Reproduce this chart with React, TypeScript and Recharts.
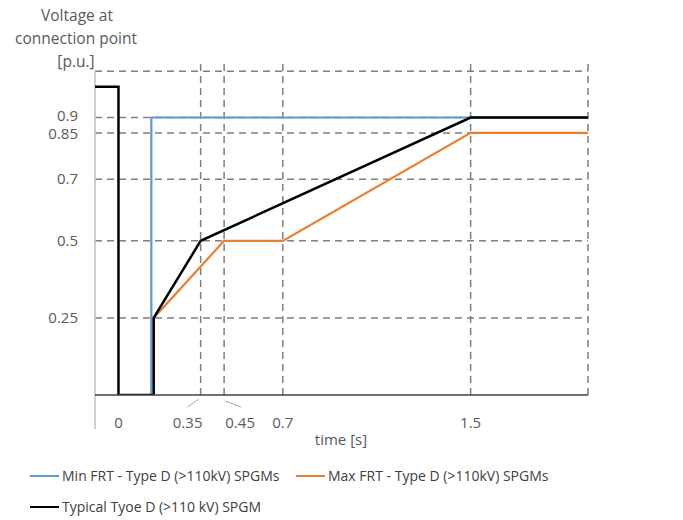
import React from "react";
import { LineChart, Line, XAxis, YAxis, ReferenceLine } from "recharts";

const minFrt = [
  { t: 0.14, v: 0 },
  { t: 0.14, v: 0.9 },
  { t: 2, v: 0.9 },
];

const maxFrt = [
  { t: 0.15, v: 0 },
  { t: 0.15, v: 0.25 },
  { t: 0.45, v: 0.5 },
  { t: 0.7, v: 0.5 },
  { t: 1.5, v: 0.85 },
  { t: 2, v: 0.85 },
];

const typical = [
  { t: -0.1, v: 1 },
  { t: 0, v: 1 },
  { t: 0, v: 0 },
  { t: 0.15, v: 0 },
  { t: 0.15, v: 0.25 },
  { t: 0.35, v: 0.5 },
  { t: 1.5, v: 0.9 },
  { t: 2, v: 0.9 },
];

const xTicks = [0, 0.35, 0.45, 0.7, 1.5];
const yTicks = [0.25, 0.5, 0.7, 0.85, 0.9];
const gridX = [0.35, 0.45, 0.7, 1.5, 2];
const gridY = [0.25, 0.5, 0.7, 0.85, 0.9, 1.05];

const series = [
  { name: "Min FRT - Type D (>110kV) SPGMs", color: "#5B9BD5", data: minFrt },
  { name: "Max FRT - Type D (>110kV) SPGMs", color: "#ED7D31", data: maxFrt },
  { name: "Typical Tyoe D (>110 kV) SPGM", color: "#000000", data: typical },
];

const FONT = "'Open Sans', sans-serif";
const TEXT = "#595959";
const GRID = "#7f7f7f";

const XTick = (props: any) => {
  const { x, y, payload } = props;
  const v = payload.value;
  // 0.35 and 0.45 sit too close, so their labels are pushed apart with leaders
  let dx = 0;
  let leader = null;
  if (Math.abs(v - 0.35) < 1e-6) {
    dx = -13;
    leader = <line x1={x - 2} y1={y + 2} x2={x - 13} y2={y + 10} stroke="#a6a6a6" />;
  } else if (Math.abs(v - 0.45) < 1e-6) {
    dx = 16;
    leader = <line x1={x + 1} y1={y + 4} x2={x + 17} y2={y + 10} stroke="#a6a6a6" />;
  }
  return (
    <g>
      {leader}
      <text x={x + dx} y={y + 31} textAnchor="middle" fill={TEXT} fontSize={15} fontFamily={FONT}>
        {v}
      </text>
    </g>
  );
};

const YTick = (props: any) => {
  const { x, y, payload } = props;
  const v = payload.value;
  // 0.9 and 0.85 are only a few pixels apart
  const dy = v === 0.9 ? -1.5 : v === 0.85 ? 1.5 : 0;
  return (
    <text x={x} y={y + dy + 5} textAnchor="end" fill={TEXT} fontSize={15} fontFamily={FONT}>
      {v}
    </text>
  );
};

export default function App() {
  return (
    <div style={{ position: "absolute", left: 0, top: 0, width: 683, height: 520, background: "#fff" }}>
      <LineChart width={683} height={520} margin={{ top: 62, right: 95, bottom: 95, left: 35 }}>
        <XAxis
          dataKey="t"
          type="number"
          domain={[-0.1, 2]}
          ticks={xTicks}
          interval={0}
          allowDataOverflow
          axisLine={{ stroke: "#404040", strokeWidth: 1.5 }}
          tickLine={false}
          tickSize={0}
          tick={<XTick />}
          height={30}
        />
        <YAxis
          type="number"
          domain={[0, 1.08]}
          ticks={yTicks}
          interval={0}
          allowDataOverflow
          axisLine={false}
          tickLine={false}
          tickSize={0}
          tickMargin={17}
          width={60}
          tick={<YTick />}
        />
        {gridY.map((y) => (
          <ReferenceLine key={"y" + y} y={y} stroke={GRID} strokeDasharray="7 5" strokeWidth={1.5} />
        ))}
        {gridX.map((x) => (
          <ReferenceLine key={"x" + x} x={x} stroke={GRID} strokeDasharray="7 5" strokeWidth={1.5} />
        ))}
        <ReferenceLine
          segment={[{ x: -0.1, y: -0.11 }, { x: -0.1, y: 1.05 }]}
          stroke="#bfbfbf"
          strokeWidth={1.5}
          ifOverflow="visible"
        />
        {series.map((s) => (
          <Line
            key={s.name}
            data={s.data}
            dataKey="v"
            name={s.name}
            type="linear"
            stroke={s.color}
            strokeWidth={s.color === "#000000" ? 2.5 : 2.2}
            dot={false}
            activeDot={false}
            isAnimationActive={false}
          />
        ))}
        <text textAnchor="middle" fill={TEXT} fontSize={15.5} fontFamily={FONT}>
          <tspan x={77} y={21}>Voltage at</tspan>
          <tspan x={76} y={44}>connection point</tspan>
          <tspan x={76} y={67}>[p.u.]</tspan>
        </text>
        <text x={341} y={445} textAnchor="middle" fill={TEXT} fontSize={15} fontFamily={FONT}>
          time [s]
        </text>
      </LineChart>
      <div style={{ position: "absolute", left: 0, top: 466, width: 683, height: 54, fontFamily: FONT, fontSize: 14, color: "#404040" }}>
        {series.map((s, i) => (
          <div
            key={s.name}
            style={{
              position: "absolute",
              left: i === 1 ? 296 : 30,
              top: i === 2 ? 31 : 0,
              display: "flex",
              alignItems: "center",
              whiteSpace: "nowrap",
            }}
          >
            <span style={{ display: "inline-block", width: 29, height: 2, background: s.color, marginRight: 3 }} />
            <span>{s.name}</span>
          </div>
        ))}
      </div>
    </div>
  );
}
